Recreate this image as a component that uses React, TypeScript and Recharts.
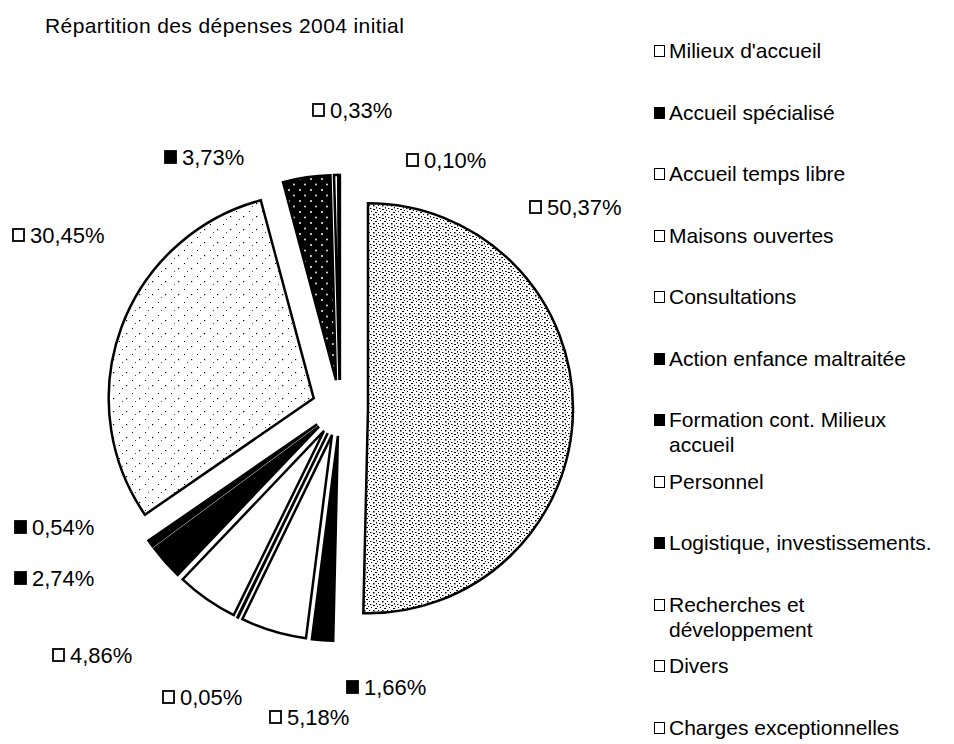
import React from "react";
import { PieChart, Pie, Cell, Sector, Legend } from "recharts";

// postes de dépenses, dans l'ordre du graphique (sens horaire depuis midi)
const categories = [
  "Milieux d'accueil",
  "Accueil spécialisé",
  "Accueil temps libre",
  "Maisons ouvertes",
  "Consultations",
  "Action enfance maltraitée",
  "Formation cont. Milieux accueil",
  "Personnel",
  "Logistique, investissements.",
  "Recherches et développement",
  "Divers",
  "Charges exceptionnelles",
];

// parts en %
const shares = [50.37, 1.66, 5.18, 0.05, 4.86, 2.74, 0.54, 30.45, 3.73, 0.33, 0.1, 0];

// styles (hors données)
const SLICE_FILLS = [
  "url(#stippleDense)",
  "#000",
  "#fff",
  "#fff",
  "#fff",
  "#000",
  "#000",
  "url(#stippleLight)",
  "url(#blackDots)",
  "#fff",
  "#fff",
  "#fff",
];
const MARKER_FILLS = ["#fff", "#000", "#fff", "#fff", "#fff", "#000", "#000", "#fff", "#000", "#fff", "#fff", "#fff"];

// emplacement des étiquettes (placées à la main dans l'original)
const LABEL_POS: [number, number][] = [
  [530, 207],
  [347, 687],
  [270, 717],
  [163, 697],
  [53, 655],
  [15, 578],
  [15, 527],
  [13, 235],
  [165, 157],
  [313, 110],
  [407, 160],
  [0, 0],
];

const FONT = "'Liberation Sans', Arial, Helvetica, sans-serif";
const EXPLODE = 28;

const data = categories.map((name, i) => ({ name, value: shares[i] }));

const fmt = (v: number) => `${v.toFixed(2).replace(".", ",")}%`;

const ExplodedSector = (props: any) => {
  const { cx, cy, midAngle } = props;
  const rad = (-midAngle * Math.PI) / 180;
  return (
    <Sector
      {...props}
      cx={cx + EXPLODE * Math.cos(rad)}
      cy={cy + EXPLODE * Math.sin(rad)}
    />
  );
};

const renderLabel = (p: any) => {
  const i = p.index;
  if (!shares[i]) return null;
  const [x, y] = LABEL_POS[i];
  return (
    <g key={`lbl-${i}`}>
      <rect
        x={x}
        y={y - 6}
        width={11}
        height={12}
        fill={MARKER_FILLS[i]}
        stroke="#000"
        strokeWidth={1.8}
      />
      <text
        x={x + 17}
        y={y}
        dominantBaseline="central"
        fontSize={22}
        fontFamily={FONT}
        fill="#000"
      >
        {fmt(shares[i])}
      </text>
    </g>
  );
};

const LegendList = () => (
  <div style={{ fontFamily: FONT, fontSize: 21, color: "#000" }}>
    {categories.map((name, i) => (
      <div
        key={name}
        style={{ height: 61.5, display: "flex", alignItems: "flex-start" }}
      >
        <div
          style={{
            width: 11,
            height: 12,
            marginTop: 7,
            marginRight: 4,
            boxSizing: "border-box",
            border: "1.8px solid #000",
            background: MARKER_FILLS[i],
            flex: "none",
          }}
        />
        <div style={{ width: 275, lineHeight: "25px" }}>{name}</div>
      </div>
    ))}
  </div>
);

export default function App() {
  return (
    <div
      style={{
        position: "absolute",
        left: 0,
        top: 0,
        width: 954,
        height: 744,
        background: "#fff",
        fontFamily: FONT,
      }}
    >
      <div
        style={{
          position: "absolute",
          left: 45,
          top: 14,
          fontSize: 21,
          letterSpacing: 0.4,
          color: "#000",
          whiteSpace: "nowrap",
          zIndex: 1,
        }}
      >
        Répartition des dépenses 2004 initial
      </div>
      <PieChart width={954} height={744} margin={{ top: 0, right: 0, bottom: 0, left: 0 }}>
        <defs>
          <pattern id="stippleDense" width="9" height="9" patternUnits="userSpaceOnUse">
            <rect width="9" height="9" fill="#fff" />
            <rect x="1" y="1" width="1.5" height="1" fill="#000" />
            <rect x="4" y="2" width="2" height="1" fill="#000" />
            <rect x="7" y="0" width="1" height="1.5" fill="#000" />
            <rect x="2" y="4" width="1" height="1" fill="#000" />
            <rect x="6" y="5" width="2" height="1" fill="#000" />
            <rect x="0" y="7" width="1" height="1" fill="#000" />
            <rect x="4" y="7" width="1.5" height="1.5" fill="#000" />
            <rect x="8" y="3" width="1" height="1" fill="#000" />
          </pattern>
          <pattern id="stippleLight" width="13" height="13" patternUnits="userSpaceOnUse">
            <rect width="13" height="13" fill="#fff" />
            <rect x="2" y="3" width="1" height="1" fill="#000" />
            <rect x="9" y="8" width="1.2" height="1.2" fill="#000" />
            <rect x="5" y="11" width="1" height="1" fill="#444" />
          </pattern>
          <pattern id="blackDots" width="11" height="11" patternUnits="userSpaceOnUse">
            <rect width="11" height="11" fill="#000" />
            <circle cx="3" cy="3" r="1" fill="#fff" />
            <circle cx="8" cy="8.5" r="0.9" fill="#fff" />
          </pattern>
        </defs>
        <Pie
          data={data}
          dataKey="value"
          nameKey="name"
          cx={340}
          cy={408}
          outerRadius={205}
          startAngle={90}
          endAngle={-270}
          shape={ExplodedSector}
          label={renderLabel}
          labelLine={false}
          isAnimationActive={false}
        >
          {data.map((d, i) => (
            <Cell key={d.name} fill={SLICE_FILLS[i]} stroke="#000" strokeWidth={2.5} />
          ))}
        </Pie>
        <Legend
          layout="vertical"
          align="right"
          verticalAlign="top"
          content={() => <LegendList />}
          wrapperStyle={{ left: 654, top: 38, width: 300 }}
        />
      </PieChart>
    </div>
  );
}
